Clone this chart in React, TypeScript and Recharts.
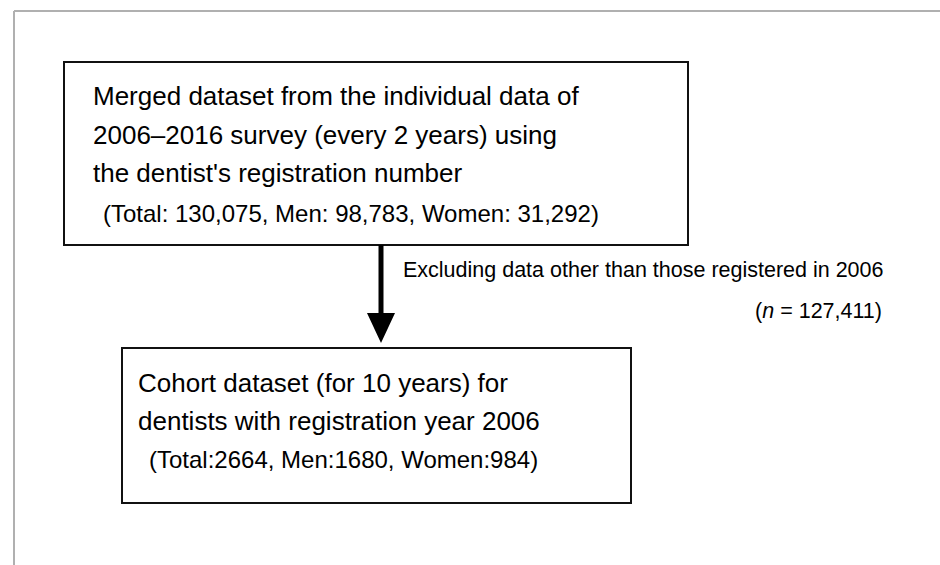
// Flow diagram of the dentist cohort selection, drawn on a hidden-axis scatter chart
// whose units are pixels (y reversed), so boxes, arrow and labels go through the scales.
import { ScatterChart, Scatter, XAxis, YAxis, ReferenceArea, ReferenceLine } from "recharts";

const W = 940;
const H = 565;
const FONT = "'Liberation Sans', Arial, Helvetica, sans-serif";

const topBoxLines = [
  "Merged dataset from the individual data of",
  "2006–2016 survey (every 2 years) using",
  "the dentist's registration number",
];
const topBoxCounts = "(Total: 130,075, Men: 98,783, Women: 31,292)";
const bottomBoxLines = ["Cohort dataset (for 10 years) for", "dentists with registration year 2006"];
const bottomBoxCounts = "(Total:2664, Men:1680, Women:984)";
const exclusionNote = "Excluding data other than those registered in 2006";
const excludedN = "127,411";

// diagram layout, in chart units
const boxes = [
  { x1: 64, x2: 688, y1: 62, y2: 245 },
  { x1: 122, x2: 631, y1: 348, y2: 503 },
];
const arrowShaft = [
  { x: 381, y: 245 },
  { x: 381, y: 318 },
];
const arrowTip = [{ x: 381, y: 343 }];

type Label = { x: number; y: number; text: string; size: number; anchor: "start" | "end"; nItalic?: boolean };

const labels: Label[] = [
  ...topBoxLines.map((t, i) => ({ x: 93, y: 105 + i * 38.5, text: t, size: 26, anchor: "start" as const })),
  { x: 103, y: 222, text: topBoxCounts, size: 24, anchor: "start" },
  ...bottomBoxLines.map((t, i) => ({ x: 138, y: 392 + i * 38, text: t, size: 26, anchor: "start" as const })),
  { x: 149, y: 468, text: bottomBoxCounts, size: 24, anchor: "start" },
  { x: 403, y: 277, text: exclusionNote, size: 21.5, anchor: "start" },
  { x: 882, y: 318, text: excludedN, size: 21.5, anchor: "end", nItalic: true },
];

const LabelShape = (props: any) => {
  const { cx, cy, payload } = props;
  const p = payload as Label;
  return (
    <text x={cx} y={cy} fontSize={p.size} fontFamily={FONT} fill="#000" textAnchor={p.anchor}>
      {p.nItalic ? (
        <>
          (<tspan fontStyle="italic">n</tspan> = {p.text})
        </>
      ) : (
        p.text
      )}
    </text>
  );
};

const ArrowHead = (props: any) => {
  const { cx, cy } = props;
  return <path d={`M${cx},${cy} L${cx - 14},${cy - 30} L${cx + 14},${cy - 30} Z`} fill="#000" />;
};

export default function App() {
  return (
    <div style={{ position: "absolute", left: 0, top: 0, width: W, height: H, background: "#fff" }}>
      <ScatterChart width={W} height={H} margin={{ top: 0, right: 0, bottom: 0, left: 0 }}>
        <XAxis type="number" dataKey="x" domain={[0, W]} hide allowDataOverflow />
        <YAxis type="number" dataKey="y" domain={[0, H]} reversed hide allowDataOverflow />
        {/* light frame along top and left */}
        <ReferenceLine segment={[{ x: 14, y: 11 }, { x: W, y: 11 }]} stroke="#b0b0b0" strokeWidth={2} />
        <ReferenceLine segment={[{ x: 14, y: 11 }, { x: 14, y: H }]} stroke="#b0b0b0" strokeWidth={2} />
        {boxes.map((b, i) => (
          <ReferenceArea key={i} x1={b.x1} x2={b.x2} y1={b.y1} y2={b.y2} fill="none" stroke="#111" strokeWidth={2} />
        ))}
        <ReferenceLine segment={arrowShaft} stroke="#000" strokeWidth={5} />
        <Scatter data={arrowTip} shape={ArrowHead} isAnimationActive={false} />
        <Scatter data={labels} shape={LabelShape} isAnimationActive={false} />
      </ScatterChart>
    </div>
  );
}
